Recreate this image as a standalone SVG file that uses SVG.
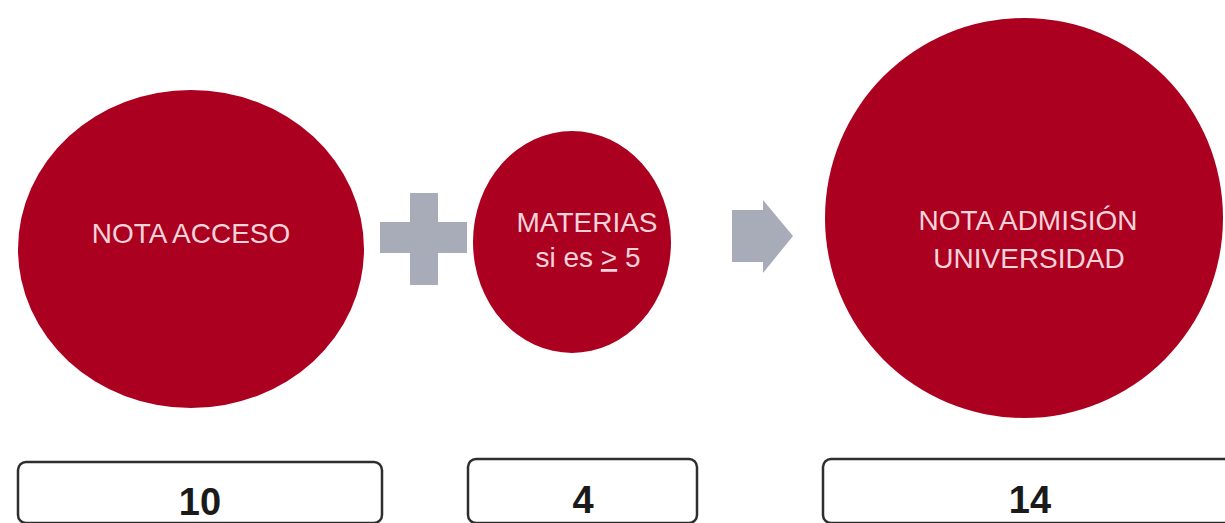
<svg xmlns="http://www.w3.org/2000/svg" width="1225" height="523" viewBox="0 0 1225 523">
<style>
.c{fill:#ab0020}
.t{font-family:"Liberation Sans",Arial,sans-serif;font-size:28px;fill:#f8d3da;text-anchor:middle}
.op{fill:#a8acb9}
.b{fill:#fff;stroke:#2e2e2e;stroke-width:2.5}
.n{font-family:"Liberation Sans",Arial,sans-serif;font-weight:bold;font-size:38px;fill:#1a1a1a;text-anchor:middle}
</style>
<rect width="1225" height="523" fill="#fff"/>
<g id="node-nota-acceso">
<ellipse class="c" cx="191" cy="249" rx="173" ry="159"/>
<text class="t" x="191" y="243">NOTA ACCESO</text>
</g>
<g id="node-materias">
<ellipse class="c" cx="572" cy="242" rx="99" ry="111"/>
<text class="t" x="587" y="232">MATERIAS</text>
<text class="t" x="588" y="267">si es <tspan text-decoration="underline">&gt;</tspan> 5</text>
</g>
<g id="node-nota-admision">
<ellipse class="c" cx="1024" cy="218" rx="199" ry="200"/>
<text class="t" x="1028" y="230" font-size="29">NOTA ADMISIÓN</text>
<text class="t" x="1029" y="268" font-size="29">UNIVERSIDAD</text>
</g>
<g id="connectors">
<path class="op" d="M410 193H438V222H467V253H438V285H410V253H380V222H410Z"/>
<path class="op" d="M732 210H763V200L793 236L763 273V262H732Z"/>
</g>
<g id="box-10">
<rect class="b" x="18" y="462" width="364" height="61" rx="8"/>
<text class="n" x="200" y="515">10</text>
</g>
<g id="box-4">
<rect class="b" x="468" y="459" width="229" height="64" rx="8"/>
<text class="n" x="583" y="513">4</text>
</g>
<g id="box-14">
<rect class="b" x="823" y="459" width="420" height="64" rx="8"/>
<text class="n" x="1030" y="513">14</text>
</g>
</svg>
